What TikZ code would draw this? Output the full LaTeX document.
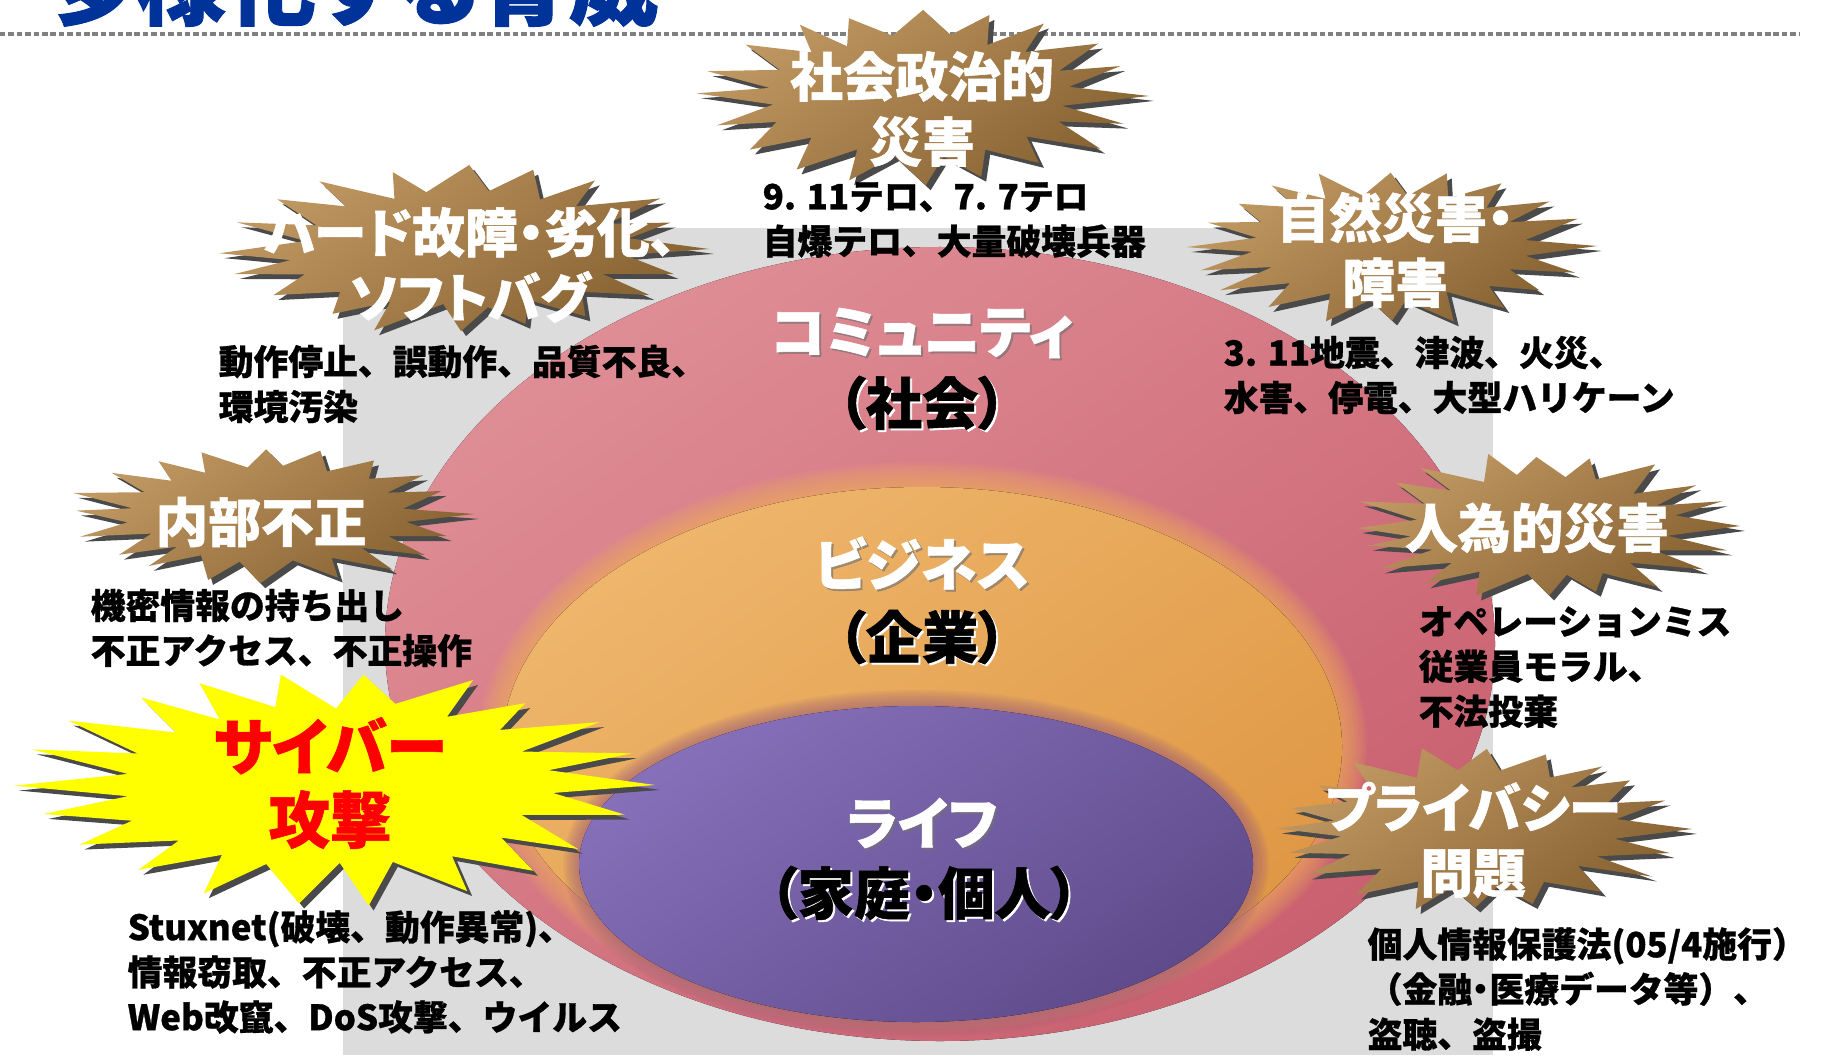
\documentclass[tikz,border=0pt]{standalone}
\usepackage{fontspec}
\newfontfamily\jp[BoldFeatures={FakeBold=0.8}]{Noto Sans CJK JP}
\newfontfamily\jpp[RawFeature=+palt]{Noto Sans CJK JP}
\newfontfamily\jph[RawFeature=+palt, BoldFeatures={FakeBold=1.0}]{Noto Sans CJK JP}
\usetikzlibrary{shadows}

\definecolor{bggray}{HTML}{DCDCDC}
\definecolor{dotgray}{HTML}{808080}
\definecolor{titleblue}{HTML}{003399}
\definecolor{pinkL}{HTML}{DF8E96}
\definecolor{pinkD}{HTML}{C9606F}
\definecolor{orL}{HTML}{EEB66C}
\definecolor{orD}{HTML}{DF9744}
\definecolor{orGlow}{HTML}{F3B25A}
\definecolor{puL}{HTML}{8670BA}
\definecolor{puD}{HTML}{5F4B8B}
\definecolor{puGlow}{HTML}{A0607A}
\definecolor{brL}{HTML}{C09862}
\definecolor{brD}{HTML}{876232}
\definecolor{shadowgray}{HTML}{4A4A4A}
\definecolor{burstyellow}{HTML}{FFFF00}
\definecolor{cyberred}{HTML}{FF0000}

% A jagged burst: style, centre x, centre y, outer x radius, outer y radius,
% depth of the notches (fraction of the radius), number of spikes, 2*spikes-1, seed
\newcommand\threatburst[9]{%
  \pgfmathsetseed{#9}%
  \path[#1] ({#2+#4},#3)
    \foreach \i [evaluate=\i as \ang using {\i*180/#7+(rnd-0.5)*120/#7},
                 evaluate=\i as \qq using {isodd(\i) ? 1+0.2*(rnd-0.5) : 0.3*rnd}]
      in {1,...,#8}
      { -- ({#2+#4*(1-#6*\qq)*cos(\ang)},{#3+#5*(1-#6*\qq)*sin(\ang)}) }
    -- cycle;
}

\begin{document}
\begin{tikzpicture}[x=0.01cm,y=-0.01cm,
  dotline/.style={dotgray, line width=0.94pt, dash pattern=on 1.56pt off 0.83pt},
  burstshadow/.style={drop shadow={shadow xshift=1.4pt, shadow yshift=-1.4pt, fill=shadowgray, opacity=1}},
  burst/.style={top color=brL, bottom color=brD, shading angle=35, burstshadow},
  cyberburst/.style={fill=burstyellow, burstshadow},
  btxt/.style={align=center, text=white, inner sep=0,
    font=\jph\bfseries\fontsize{15pt}{18.5pt}\selectfont},
  ctxt/.style={align=center, text=cyberred, inner sep=0,
    font=\jph\bfseries\fontsize{17.5pt}{20.8pt}\selectfont},
  desc/.style={anchor=west, align=left, inner sep=0,
    font=\jp\bfseries\fontsize{9.9pt}{12.8pt}\selectfont},
  lbl/.style={inner sep=0, font=\jph\bfseries\fontsize{16pt}{19pt}\selectfont}
]
\useasboundingbox (0,0) rectangle (1822,1055);
\fill[white] (0,0) rectangle (1822,1055);

% heading and rule
\node[anchor=base west, inner sep=0, text=titleblue,
  font=\jph\bfseries\fontsize{25.5pt}{30pt}\selectfont] (title) at (46,18) {多様化する脅威};
\draw[dotline] (0,34) -- (1800,34);

% background panel
\fill[bggray] (343,228) rectangle (1493,1055);

% nested domains
\fill[top color=pinkL, bottom color=pinkD, shading angle=35] (940,644) ellipse (555 and 397);
\foreach \k in {1,...,10}
  \fill[orGlow, opacity=0.09] (922,747) ellipse ({420+2.5*\k} and {260+2.5*\k});
\fill[top color=orL, bottom color=orD, shading angle=35] (922,747) ellipse (420 and 260);
\foreach \k in {1,...,8}
  \fill[puGlow, opacity=0.10] (916,864) ellipse ({337+2*\k} and {158+2*\k});
\fill[top color=puL, bottom color=puD, shading angle=35] (916,864) ellipse (337 and 158);

% domain labels
\node[lbl, text=black!55, opacity=0.6] (commS) at (924,335) {コミュニティ};
\node[lbl, text=white] (comm) at (922,333) {コミュニティ};
\node[lbl, text=white] (commPs) at (924,405) {（社会）};
\node[lbl] (commP) at (922,403) {（社会）};

\node[lbl, text=black!55, opacity=0.6] (bizS) at (924,565) {ビジネス};
\node[lbl, text=white] (biz) at (922,563) {ビジネス};
\node[lbl, text=white] (bizPs) at (924,639) {（企業）};
\node[lbl] (bizP) at (922,637) {（企業）};

\node[lbl, text=black!55, opacity=0.6] (lifeS) at (924,825) {ライフ};
\node[lbl, text=white] (life) at (922,823) {ライフ};
\node[lbl, text=white] (lifePs) at (926,895) {（家庭・個人）};
\node[lbl] (lifeP) at (924,893) {（家庭・個人）};

% threat bursts
\threatburst{burst}{920}{96}{229}{90}{0.34}{20}{39}{11}
\node[btxt] (t1) at (922,109) {社会政治的\\災害};

\threatburst{burst}{460}{249}{249}{87}{0.34}{20}{39}{23}
\node[btxt] (t2) at (470,265) {ハード故障・劣化、\\ソフトバグ};

\threatburst{burst}{1390}{246}{207}{80}{0.34}{20}{39}{37}
\node[btxt] (t3) at (1395,250) {自然災害・\\障害};

\threatburst{burst}{268}{514}{206}{72}{0.34}{20}{39}{41}
\node[btxt] (t4) at (261,522) {内部不正};

\threatburst{burst}{1541}{526}{199}{76}{0.34}{20}{39}{53}
\node[btxt] (t5) at (1537,528) {人為的災害};

\threatburst{burst}{1478}{829}{214}{87}{0.34}{20}{39}{67}
\node[btxt] (t6) at (1473,840) {プライバシー\\問題};

\threatburst{cyberburst}{333}{785}{322}{122}{0.34}{22}{43}{79}
\node[ctxt] (t7) at (330,783) {サイバー\\攻撃};

% examples for each threat
\node[desc] (d1) at (762,220) {9. 11テロ、7. 7テロ\\自爆テロ、大量破壊兵器};
\node[desc] (d2) at (218,384) {動作停止、誤動作、品質不良、\\環境汚染};
\node[desc] (d3) at (1223,375) {3. 11地震、津波、火災、\\水害、停電、大型ハリケーン};
\node[desc] (d4) at (90,628) {機密情報の持ち出し\\不正アクセス、不正操作};
\node[desc] (d5) at (1418,667) {オペレーションミス\\従業員モラル、\\不法投棄};
\node[desc] (d6) at (1367,989) {個人情報保護法(05/4施行）\\（金融{\jpp ・}医療データ等）、\\盗聴、盗撮};
\node[desc] (d7) at (127,972) {Stuxnet(破壊、動作異常)、\\情報窃取、不正アクセス、\\Web改竄、DoS攻撃、ウイルス};
\end{tikzpicture}
\end{document}
